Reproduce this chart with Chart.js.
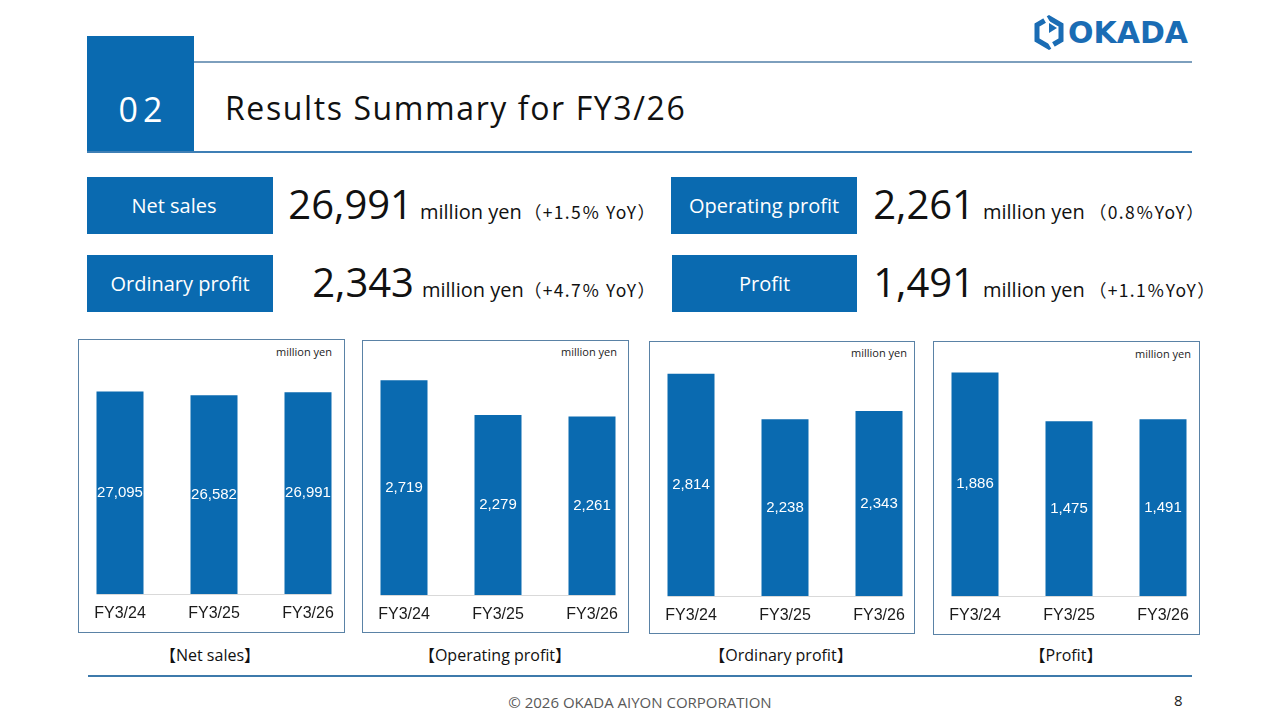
<!DOCTYPE html>
<html>
<head>
<meta charset="utf-8">
<script src="https://cdn.jsdelivr.net/npm/chart.js@4.4.1/dist/chart.umd.min.js"></script>
<style>
html,body{margin:0;padding:0;background:#fff;}
body{width:1280px;height:720px;position:relative;overflow:hidden;font-family:"Open Sans","Noto Sans CJK JP",sans-serif;color:#111;}
.abs{position:absolute;white-space:nowrap;}
.hline{position:absolute;}
.kbox{position:absolute;background:#0a6ab0;color:#fff;font-size:20px;display:flex;align-items:center;justify-content:center;line-height:1;box-sizing:border-box;}
.krow{position:absolute;display:flex;align-items:baseline;white-space:nowrap;line-height:1;}
.knum{font-size:40px;text-align:right;display:inline-block;}
.kunit{font-size:20px;}
.kyoy{font-size:17.5px;letter-spacing:1.3px;font-family:"Noto Sans CJK JP","Open Sans",sans-serif;}
.cbox{position:absolute;box-sizing:border-box;border:1.5px solid #5a82a6;}
.unit{position:absolute;font-size:11px;line-height:14px;color:#222;white-space:nowrap;}
.cap{position:absolute;font-size:16px;line-height:22px;text-align:center;width:240px;color:#111;white-space:nowrap;}
canvas{position:absolute;}
</style>
</head>
<body>
<!-- header -->
<div class="abs" style="left:87px;top:36px;width:107px;height:117px;background:#0a6ab0;"></div>
<div class="abs" style="left:87px;top:92px;width:107px;text-align:center;color:#fff;font-size:34px;line-height:34px;letter-spacing:5px;padding-left:5px;box-sizing:border-box;">02</div>
<div class="hline" style="left:194px;top:61px;width:998px;height:2px;background:#7d9fbd;"></div>
<div class="hline" style="left:87px;top:151px;width:1105px;height:2px;background:#3f7fb5;"></div>
<div id="title" class="abs" style="left:225px;top:92px;font-size:32px;line-height:32px;letter-spacing:1.6px;color:#111;"></div>

<!-- logo -->
<svg class="abs" style="left:1032px;top:14px;" width="34" height="38" viewBox="0 0 34 38">
  <polygon points="17,4 29,11 29,26 17,33 5,26 5,11" fill="none" stroke="#1a6cb4" stroke-width="5" stroke-linejoin="miter"/>
  <polygon points="17,9 25,14 17,19" fill="#1a6cb4"/>
  <rect x="12" y="1" width="4" height="9" fill="#fff" transform="rotate(-30 14 5)"/>
  <rect x="18" y="28" width="4" height="9" fill="#fff" transform="rotate(-30 20 32)"/>
</svg>
<div class="abs" style="left:1068px;top:16px;font-family:'DejaVu Sans';font-weight:bold;font-size:30px;line-height:34px;color:#1a6cb4;">OKADA</div>

<!-- KPI -->
<div id="kpi"></div>

<!-- charts -->
<div id="charts"></div>

<!-- footer -->
<div class="hline" style="left:88px;top:675px;width:1104px;height:2px;background:#3d7aab;"></div>
<div class="abs" style="left:440px;width:400px;top:692px;text-align:center;font-size:15px;line-height:20px;color:#595959;">© 2026 OKADA AIYON CORPORATION</div>
<div class="abs" style="left:1174px;top:690px;font-size:15px;line-height:20px;color:#222;">8</div>

<script>
// ---- data ----
const titleText = 'Results Summary for FY3/26';
const categories = ['FY3/24', 'FY3/25', 'FY3/26'];
const netSales = [27095, 26582, 26991];
const operatingProfit = [2719, 2279, 2261];
const ordinaryProfit = [2814, 2238, 2343];
const profit = [1886, 1475, 1491];
const chartCaptions = ['【Net sales】', '【Operating profit】', '【Ordinary profit】', '【Profit】'];
const yAxisMax = [31700, 3000, 3000, 2000];
const unitLabel = 'million yen';
const kpiLabels = ['Net sales', 'Operating profit', 'Ordinary profit', 'Profit'];
const kpiValues = ['26,991', '2,261', '2,343', '1,491'];
const kpiYoY = ['（+1.5％ YoY）', '（0.8％YoY）', '（+4.7％ YoY）', '（+1.1％YoY）'];

document.getElementById('title').textContent = titleText;

// ---- KPI layout ----
const kpiBoxes = [
  {l:87, t:177, w:186, h:57, pr:12},
  {l:671, t:177, w:186, h:57, pr:0},
  {l:87, t:255, w:186, h:57, pr:0},
  {l:672, t:255, w:185, h:57, pr:0}
];
const kpiRows = [
  {numRight:413, top:184, gap1:7, unitW:104},
  {numRight:975, top:184, gap1:8, unitW:106},
  {numRight:414, top:262, gap1:8, unitW:102},
  {numRight:975, top:262, gap1:8, unitW:106}
];
const kpiEl = document.getElementById('kpi');
kpiLabels.forEach((lab, i) => {
  const b = kpiBoxes[i];
  const d = document.createElement('div');
  d.className = 'kbox';
  d.style.cssText = `left:${b.l}px;top:${b.t}px;width:${b.w}px;height:${b.h}px;padding-right:${b.pr}px;`;
  d.textContent = lab;
  kpiEl.appendChild(d);
  const r = kpiRows[i];
  const row = document.createElement('div');
  row.className = 'krow';
  row.style.cssText = `left:${r.numRight - 150}px;top:${r.top}px;`;
  const n = document.createElement('span'); n.className = 'knum'; n.style.width = '150px'; n.textContent = kpiValues[i];
  const u = document.createElement('span'); u.className = 'kunit'; u.style.marginLeft = r.gap1 + 'px'; u.style.width = r.unitW + 'px'; u.style.display='inline-block'; u.textContent = unitLabel;
  const y = document.createElement('span'); y.className = 'kyoy'; y.textContent = kpiYoY[i];
  row.appendChild(n); row.appendChild(u); row.appendChild(y);
  kpiEl.appendChild(row);
});

// ---- charts ----
const chartSeries = [netSales, operatingProfit, ordinaryProfit, profit];
const boxes = [
  {l:78, t:339, r:345, b:633, unitRight:332, unitY:352, cap:210},
  {l:362, t:340, r:629, b:633, unitRight:617, unitY:352, cap:495},
  {l:649, t:341, r:915, b:634, unitRight:907, unitY:353, cap:781},
  {l:933, t:341, r:1200, b:635, unitRight:1191, unitY:354, cap:1066}
];

const valueLabelPlugin = {
  id: 'valueLabels',
  afterDatasetsDraw(chart) {
    const ctx = chart.ctx;
    const meta = chart.getDatasetMeta(0);
    const ds = chart.data.datasets[0];
    ctx.save();
    const first = meta.data[0].getProps(['x','width'], true);
    const last = meta.data[meta.data.length - 1].getProps(['x','width'], true);
    ctx.strokeStyle = '#d9d9d9';
    ctx.lineWidth = 1;
    ctx.beginPath();
    const yb = Math.round(chart.chartArea.bottom) + 0.5;
    ctx.moveTo(first.x - first.width / 2, yb);
    ctx.lineTo(last.x + last.width / 2, yb);
    ctx.stroke();
    ctx.fillStyle = '#ffffff';
    ctx.font = '15px "Liberation Sans", Arial, sans-serif';
    ctx.textAlign = 'center';
    ctx.textBaseline = 'middle';
    meta.data.forEach((el, j) => {
      const p = el.getProps(['x','y','base'], true);
      ctx.fillText(ds.data[j].toLocaleString('en-US'), p.x, (p.y + p.base) / 2);
    });
    ctx.restore();
  }
};

const chartsEl = document.getElementById('charts');
boxes.forEach((b, i) => {
  const box = document.createElement('div');
  box.className = 'cbox';
  box.style.cssText = `left:${b.l}px;top:${b.t}px;width:${b.r - b.l}px;height:${b.b - b.t}px;`;
  chartsEl.appendChild(box);

  const unit = document.createElement('div');
  unit.className = 'unit';
  unit.style.cssText = `right:${1280 - b.unitRight}px;top:${b.unitY - 7}px;`;
  unit.textContent = unitLabel;
  chartsEl.appendChild(unit);

  const cap = document.createElement('div');
  cap.className = 'cap';
  cap.style.cssText = `left:${b.cap - 120}px;top:${644}px;`;
  cap.textContent = chartCaptions[i];
  chartsEl.appendChild(cap);

  const cv = document.createElement('canvas');
  cv.width = 282; cv.height = 287;
  cv.style.cssText = `left:${b.l - 5.5}px;top:${b.t + 8}px;width:282px;height:287px;`;
  chartsEl.appendChild(cv);

  new Chart(cv.getContext('2d'), {
    type: 'bar',
    data: {
      labels: categories,
      datasets: [{
        data: chartSeries[i],
        backgroundColor: '#0a6ab0',
        borderWidth: 0,
        categoryPercentage: 1.0,
        barPercentage: 0.5
      }]
    },
    options: {
      responsive: false,
      animation: false,
      devicePixelRatio: 1,
      layout: { padding: { top: 10, left: 0, right: 0, bottom: 0 } },
      plugins: { legend: { display: false }, tooltip: { enabled: false }, title: { display: false } },
      scales: {
        x: {
          grid: { display: false, drawTicks: false },
          border: { display: false },
          ticks: {
            color: '#1a1a1a',
            font: { family: '"Liberation Sans", Arial, sans-serif', size: 16, lineHeight: 20 / 16 },
            padding: 10,
            maxRotation: 0,
            autoSkip: false
          }
        },
        y: { display: false, min: 0, max: yAxisMax[i] }
      }
    },
    plugins: [valueLabelPlugin]
  });
});
</script>
</body>
</html>
